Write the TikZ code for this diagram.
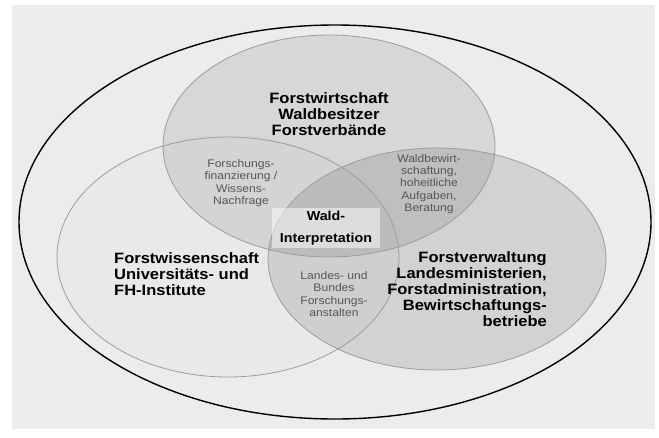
\documentclass[tikz,border=0pt]{standalone}
\usepackage{fontspec}
\setmainfont[FakeStretch=1.1]{Liberation Sans}
\usepackage{tikz}
\usepackage{xcolor}
\definecolor{paper-gray}{HTML}{ECECEC}
\definecolor{ring-gray}{HTML}{9C9C9C}
\definecolor{note-gray}{HTML}{555555}
\tikzset{
    venn-area/.style = {fill=black, draw=none},
    venn-ring/.style = {draw=ring-gray, line width=0.8pt},
    main-label/.style = {font=\fontsize{15}{16}\selectfont\bfseries, inner sep=0pt},
    note-label/.style = {font=\fontsize{11}{12.4}\selectfont, text=note-gray, align=center, inner sep=0pt},
    center-box/.style = {fill=white, fill opacity=0.5, text opacity=1, minimum width=108pt, minimum height=40pt, inner sep=0pt, align=center, font=\fontsize{13}{22}\selectfont\bfseries},
}

\begin{document}
\begin{tikzpicture}[x=1pt, y=-1pt]
\useasboundingbox (0,0) rectangle (659,437);
\fill[paper-gray] (12,5) rectangle (655,429);
\draw[black, line width=1.4pt] (335,222) ellipse [x radius=316, y radius=197];
\fill[venn-area, fill opacity=0.012] (228,257) ellipse [x radius=171, y radius=120];
\fill[venn-area, fill opacity=0.085] (329,146) ellipse [x radius=166, y radius=111];
\fill[venn-area, fill opacity=0.11] (437,259) ellipse [x radius=169, y radius=111];
\draw[venn-ring] (228,257) ellipse [x radius=171, y radius=120];
\draw[venn-ring] (329,146) ellipse [x radius=166, y radius=111];
\draw[venn-ring] (437,259) ellipse [x radius=169, y radius=111];
\node[center-box] (interpretation) at (326,228) {Wald-\\Interpretation};
\node[main-label, align=center] (wirtschaft) at (329,114) {Forstwirtschaft\\Waldbesitzer\\Forstverbände};
\node[main-label, align=left, anchor=west] (wissenschaft) at (114,274) {Forstwissenschaft\\Universitäts- und\\FH-Institute};
\node[main-label, align=right, anchor=east] (verwaltung) at (547,289) {Forstverwaltung\\Landesministerien,\\Forstadministration,\\Bewirtschaftungs-\\betriebe};
\node[note-label] (finanzierung) at (241,183) {Forschungs-\\finanzierung /\\Wissens-\\Nachfrage};
\node[note-label] (bewirtschaftung) at (429,184) {Waldbewirt-\\schaftung,\\hoheitliche\\Aufgaben,\\Beratung};
\node[note-label] (anstalten) at (334,294) {Landes- und\\Bundes\\Forschungs-\\anstalten};
\end{tikzpicture}
\end{document}
